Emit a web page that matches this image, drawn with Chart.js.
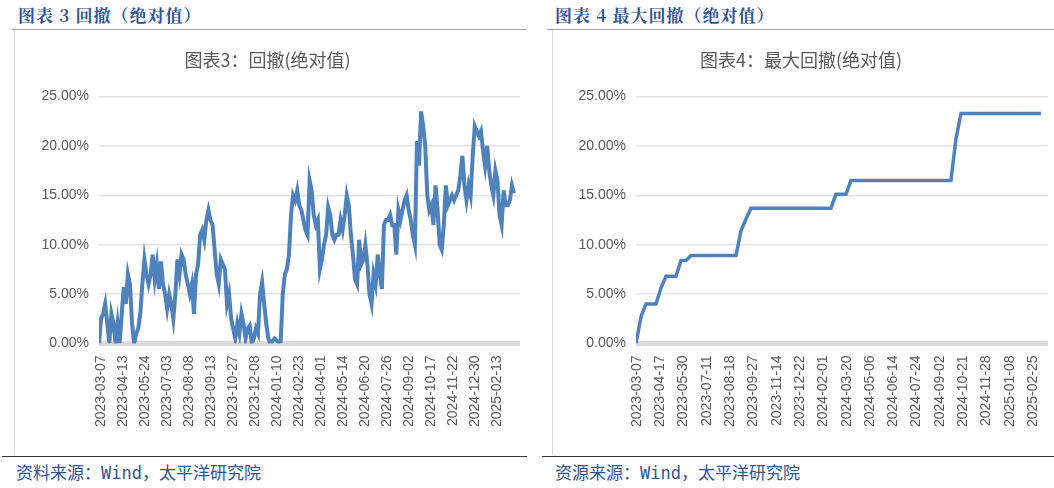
<!DOCTYPE html>
<html><head><meta charset="utf-8">
<script src="https://cdn.jsdelivr.net/npm/chart.js@4"></script>
<style>
body{margin:0;width:1054px;height:488px;background:#fff;position:relative;overflow:hidden;font-family:"Noto Sans CJK SC";}
.hdr{position:absolute;top:2px;font-weight:bold;font-size:17px;color:#2F5597;font-family:"Noto Serif CJK SC","Noto Sans CJK SC";letter-spacing:1px}
.hl{position:absolute;top:29px;height:1px;background:#a6a6a6}
.box{position:absolute;top:30px;height:425px;border-left:1px solid #d9d9d9}
.fl{position:absolute;top:456px;height:1px;background:#333}
.ftr{position:absolute;top:459px;font-size:17px;color:#2F5597;font-family:"DejaVu Sans Mono","Noto Sans CJK SC"}
</style></head><body>
<div class="hdr" style="left:18px">图表 3 回撤（绝对值）</div>
<div class="hl" style="left:12px;width:515px"></div>
<div class="box" style="left:14px"></div>
<div class="fl" style="left:2px;width:525px"></div>
<div class="ftr" style="left:16px">资料来源：Wind，太平洋研究院</div>
<div class="hdr" style="left:555px">图表 4 最大回撤（绝对值）</div>
<div class="hl" style="left:547px;width:507px"></div>
<div class="box" style="left:552px"></div>
<div class="fl" style="left:542px;width:512px"></div>
<div class="ftr" style="left:555px">资源来源：Wind，太平洋研究院</div>
<div style="position:absolute;left:15px;top:30px;width:512px;height:425px"><canvas id="c1"></canvas></div>
<div style="position:absolute;left:553px;top:30px;width:501px;height:425px"><canvas id="c2"></canvas></div>
<script>
const leftTickLabels=["2023-03-07","2023-04-13","2023-05-24","2023-07-03","2023-08-08","2023-09-13","2023-10-27","2023-12-08","2024-01-10","2024-02-23","2024-04-01","2024-05-14","2024-06-20","2024-07-26","2024-09-02","2024-10-17","2024-11-22","2024-12-30","2025-02-13"];
const drawdown=[0,2.5,3,4,2,0,3,2,0,2,0,3,5.7,4,7,6,2,0,1,1.5,3,6,8.5,7,6,7,9,6.5,8,5.5,8.3,6,5,3.5,5,4,2.5,5,8.5,7,9,8.5,7,6,5,6,3,7,8,11,11.5,10.5,12.5,13.5,12.5,12,9.5,7,6,8.5,8,7.5,4,5,2.5,1.5,0.5,2,1,3,2,0.5,1.5,1.8,0,0.5,1.5,1,5,6.2,4,2,0.5,0,0.2,0.5,0.3,0.1,0.2,5,7,7.5,9,13,15,14.5,15.5,14,13.5,12.5,11.5,11,16.5,15.5,13,12,12.5,7.5,8.5,10,11,13.8,13,11,10.5,11,11,12.5,11.5,13,15,14,11,9,6.5,6,10.5,8,8.5,10,8,5,4,7,6,9,7,5.5,12,12.5,12.5,13,12,12,9,13.5,12.5,13.5,14.5,15,13.5,12.5,11,10,20.5,18,23.5,22,20,15,13.5,14,12,16,13.5,10,9.5,12,16,14,14.5,15,14.5,15,15.5,17,19,16,14.5,16,15,19,22,21.5,21,21.5,19.5,18,20,17.5,16,15,17.5,16.5,13,12,15.5,14,14,14.5,16,15.2];
const rightTickLabels=["2023-03-07","2023-04-17","2023-05-30","2023-07-11","2023-08-18","2023-09-27","2023-11-14","2023-12-22","2024-02-01","2024-03-20","2024-05-06","2024-06-14","2024-07-24","2024-09-02","2024-10-21","2024-11-28","2025-01-08","2025-02-25"];
const maxDrawdown=[0,2.7,4,4,4,5.6,6.8,6.8,6.8,8.4,8.4,8.9,8.9,8.9,8.9,8.9,8.9,8.9,8.9,8.9,8.9,11.4,12.6,13.7,13.7,13.7,13.7,13.7,13.7,13.7,13.7,13.7,13.7,13.7,13.7,13.7,13.7,13.7,13.7,13.7,15.1,15.1,15.1,16.5,16.5,16.5,16.5,16.5,16.5,16.5,16.5,16.5,16.5,16.5,16.5,16.5,16.5,16.5,16.5,16.5,16.5,16.5,16.5,16.5,20.7,23.3,23.3,23.3,23.3,23.3,23.3,23.3,23.3,23.3,23.3,23.3,23.3,23.3,23.3,23.3,23.3,23.3];

function make(id,title,vals,labels,geo){
  const n=vals.length, ppi=geo.span/(n-1);
  const ticks=labels.map((l,k)=>(geo.off+geo.sp*k)/ppi);
  new Chart(document.getElementById(id),{
    type:'line',
    data:{datasets:[{data:vals.map((v,i)=>({x:i,y:v})),borderColor:'#4F81BD',borderWidth:geo.lw,pointRadius:0,tension:0}]},
    options:{responsive:true,maintainAspectRatio:false,animation:false,
      layout:{padding:{top:0,right:geo.pr,bottom:24,left:0}},
      plugins:{legend:{display:false},tooltip:{enabled:false},
        title:{display:true,text:title,color:'#595959',font:{family:'Noto Sans CJK SC',size:18,weight:'normal'},padding:{top:19,bottom:26}}},
      scales:{
        x:{type:'linear',min:0,max:(n-1)+geo.extra/ppi,
          afterBuildTicks:a=>{a.ticks=ticks.map(v=>({value:v}));},
          ticks:{autoSkip:false,maxRotation:90,minRotation:90,color:'#595959',font:{family:'Liberation Sans',size:14},padding:4,
            callback:(v,i)=>labels[i]},
          grid:{display:false},border:{display:false}},
        y:{min:0,max:25,afterFit:s=>{s.width=geo.yw;},
          ticks:{stepSize:5,color:'#595959',font:{family:'Liberation Sans',size:14},padding:10,callback:v=>v.toFixed(2)+'%'},
          grid:{color:c=>c.tick.value===0?'#d9d9d9':'#e3e3e3',lineWidth:c=>c.tick.value===0?5:1.5,drawTicks:false},
          border:{display:false}}
      }}});
}
make('c1','图表3：回撤(绝对值)',drawdown,leftTickLabels,{span:415,extra:6,off:2,sp:22,lw:4,yw:84,pr:7});
make('c2','图表4：最大回撤(绝对值)',maxDrawdown,rightTickLabels,{span:405,extra:7,off:1,sp:23.3,lw:3.5,yw:83,pr:5});
</script>
</body></html>
